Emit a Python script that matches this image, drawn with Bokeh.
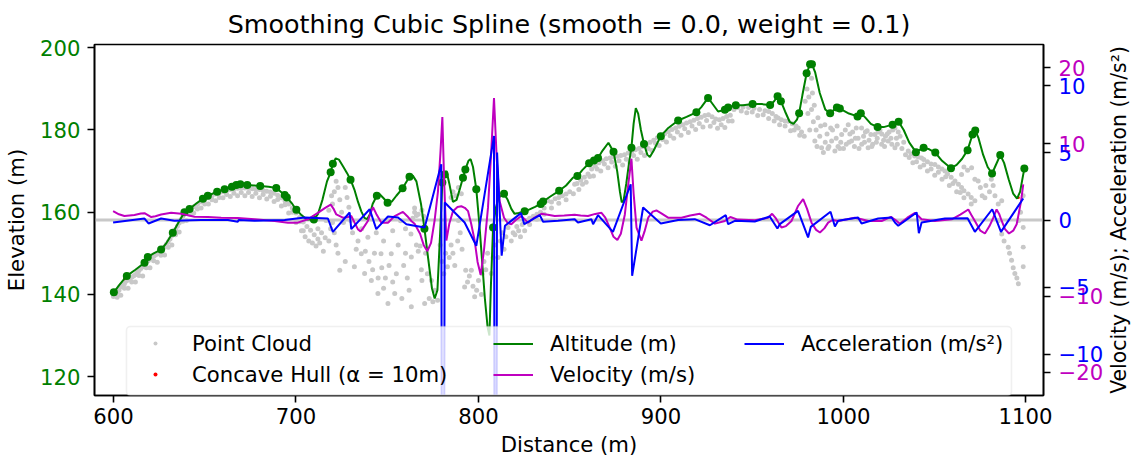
from bokeh.plotting import figure
from bokeh.layouts import row
from bokeh.core.properties import value
from bokeh.models import (Range1d, LinearAxis, FixedTicker, Legend, LegendItem,
                          Span, BoxAnnotation, CustomJSTickFormatter, AllLabels)
from bokeh.embed import file_html
from bokeh.resources import INLINE
import math

# ---------------- data ----------------
title_text = "Smoothing Cubic Spline (smooth = 0.0, weight = 0.1)"
right_label = "Velocity (m/s); Acceleration (m/s\u00b2)"
x_ticks = [600, 700, 800, 900, 1000, 1100]
elev_ticks = [120, 140, 160, 180, 200]
acc_ticks = [-10, -5, 0, 5, 10]
acc_tick_labels = ["\u221210", "\u22125", "0", "5", "10"]
vel_ticks = [-20, -10, 10, 20]
vel_tick_labels = ["\u221220", "\u221210", "10", "20"]

cloud_pts = [
    (600,139.5),(601,140),(602,140.5),(603,141),(604,141.8),(605,142.3),(606,142.6),(607,143.2),(608,143.5),
    (609,143.8),(610,144.2),(611,144.5),(612,144.8),(613,145.3),(614,145.8),(615,146.3),(616,146.7),(617,147.2),
    (618,147.8),(619,148.2),(620,148.6),(621,149),(622,149.3),(623,149.6),(624,149.9),(625,150.3),(626,150.6),
    (627,151.1),(628,151.6),(629,152.2),(630,152.8),(631,153.5),(632,154.3),(633,155),(634,155.8),(635,156.6),
    (636,157.4),(637,158.2),(638,159),(639,159.6),(640,160),(642,160.6),(644,161.3),(646,161.9),(648,162.5),
    (650,163),(652,163.5),(654,164),(656,164.4),(658,164.7),(660,165),(662,165.3),(664,165.5),(666,165.7),
    (668,165.8),(670,165.9),(672,165.9),(674,165.8),(676,165.7),(678,165.6),(680,165.5),(682,165.3),(684,165.1),
    (686,164.9),(688,164.6),(690,164.1),(692,163.5),(694,162.8),(696,162),(698,161),(700,159.8),(702,158.7),
    (704,157.6),(706,156.5),(708,155.6),(710,154.5),(712,153.5),
    (602,139.3),(606,141.5),(610,143),(614,144.6),(618,146.5),(622,148.2),(626,149.5),(630,151.5),(634,154.5),
    (638,157.8),(642,159.5),(646,160.8),(650,162),(654,163),(658,163.6),(662,164.3),(666,164.6),(670,164.8),
    (674,164.8),(678,164.6),(682,164.3),(686,163.9),(690,163.1),(694,161.8),(698,160),(702,157.7),
    (604,139.8),(608,141.5),(612,143),(616,144.5),(620,146.5),(624,147.8),(628,149.6),(632,152),(636,155.2),
    (640,158),(644,159.8),(648,161),(652,162),(656,162.8),(660,163.5),(664,163.8),(668,164),(672,164),
    (676,163.8),(680,163.5),(684,163.2),(688,162.6),(692,161.5),(696,159.8),(700,157.5),(704,155.5),
    (703,155.5),(705,154),(707,153),(709,152.5),(711,151.8),(713,152.5),(712,156),(714,155),(716,153.8),
    (718,153),(715,150.5),(719,156),(720,157.5),(721,155),(722,152),(723,150),(720,162),(721,165),(722,167.5),
    (723,166),(724,163),(725,160),(726,157.5),(724,145.9),(727,148),(728,163.6),(729,161.2),(730,158),(731,155),
    (732,146.7),(733,151),(734,153),(735.8,149.9),(737.6,145.1),(738,150.5),(739.4,153.9),(740,148),(741.3,143.4),
    (742,146),(743,150),(744.9,140.2),(745,144),(746.6,149.9),(747,146.5),(748,141.5),(749,144),(750.4,137.8),
    (750.4,158),(751,147),(752.2,149.9),(753,143),(754.1,140.2),(755,145),(756,152),(757.3,157.9),(758,139),
    (759,147),(760,150),(761,144),(762,141),(763.2,137),(763.2,149.1),(763,154.7),(764,158.5),(765,160),
    (766,159.2),(766,152),(767,150.5),(768,151.8),(768.7,146),(769,143.4),(770.5,137.8),(771,150),(772,145),
    (773,139),(774.2,143.4),(775,138.2),(776,141),(777.6,138.6),(716.5,158),(718,160.5),(719.5,164),(727,166),
    (765,161),(767,159.5),(769,160.5),(770,159),(736,156),(744,155),(748,153),(753,155.5),(760,156),
    (779,152),(780,148),(781,145),(782,150),(783,146.7),(784,149),(785,152),(786,150),(787,147),(788.6,153),
    (785,163.6),(786,165),(787.5,164),(789,166),(790.6,164.5),(789,158),(790,155),(791,151),(792.4,141.8),
    (793,145.9),(794,143),(795,144.5),(796.1,145.9),(797,142),(797.9,139.4),(799,141),(800,143.4),(801.6,140),
    (802,145),(803,148),(804,146),(805,150),(807,145.1),(808,149),(809,152),(810.7,149),(812,153),(813,155),
    (814,151),(815,154),(816.2,156.3),(818,153),(819,155),(820,154.5),(821,156.5),(822,155.5),(823,154),
    (824,157),(825.3,155.5),(826,158),(828,158.5),(830,159),(832,159.5),(834,160),(836,161),(838,162.8),
    (840,162.5),(842,163.3),(844,163.6),(846,164),(848,164.4),(850,165),(852.7,166.8),
    (828,157),(832,158.3),(836,159.5),(840,161),(844,162.2),(848,163),(852,164.5),
    (854,167),(856,167.8),(858,168.5),(860,169.3),(862,170.5),(864,171.2),(866,172),(868,172.5),(870,173),
    (872,173.2),(874,173.4),(876,173.6),(878,173.8),(880,174),(882,174.4),(884,174.8),(886,175.2),(888,175.5),
    (890,175.9),(892,176.5),(894,177),(896,177.5),(898,178.1),(900,178.6),(902,179.1),(904,179.6),(906,180.1),
    (908,180.5),(910,180.9),(912,181.3),(914,181.7),(916,182),(918,182.4),(920,182.8),(922,183.1),(924,183.5),
    (926,183.7),(928,183.2),(930,182.7),(932,182.5),(934,182.8),(936,183.3),(938,183.6),(940,185),
    (857,166.8),(861,168.7),(865,170.5),(869,171.7),(873,172.2),(877,172.5),(881,172.9),(885,173.8),(889,174.5),
    (893,175.5),(897,176.8),(901,177.7),(905,178.6),(909,179.5),(913,180.3),(917,181),(921,181.6),(925,182.3),
    (929,181.8),(933,181.3),(937,182.2),
    (855,165.5),(859,167.3),(863,168.8),(867,170),(871,170.8),(875,171.2),(879,171.5),(883,172.1),(887,172.9),
    (891,173.8),(895,175),(899,176.2),(903,177.1),(907,178),(911,178.7),(915,179.4),(919,180.1),(923,180.7),
    (927,180.9),(931,180.4),(935,180.6),(939,182.2),
    (942,185.5),(945,185.6),(948,185.5),(951,185.3),(954,185),(957,184.7),(959,184.5),(961,184),(963,183.3),
    (964.2,182.9),(966,182.5),(968,182.2),(969.7,182.1),(972,181.5),(974,181),(975.2,180.5),(977,179.5),
    (978.5,178.5),(944,184.6),(950,184.4),(956,183.7),(962,182.2),(968,181),(973,180),
    (947,184.2),(953,183.5),(959,182.8),(965,181.3),(971,179.8),(976,178.7),
    (979,187),(980,190),(981,188),(982.5,192.6),(983,189),(982.5,185),(983.5,182),(984.3,177.3),(985,180),
    (986,183),(987,178.5),(988,175.7),(989.8,181.3),(990,177),(991,179),(992,176),(993.5,177.3),(994,180),
    (995.3,174.9),(996,178),(997,176),(998,175.5),(999,178.9),(1000,175.5),(1001,180),(1002.6,181.3),(1003,177),
    (1004.4,177.3),(1005,179.5),(1006,176),(1007,180.5),(1008,178),(1009.9,180.5),(1010,176.5),(1011,178.5),
    (1012,179.5),(1013.5,175.7),(1014,177.5),(1015,178.9),(1016,176.5),(1017.2,178.9),(1018,177),(1019,179.5),
    (1020.9,176.5),(1021,179),(1022,177.5),(1023,178.5),(1024.5,177.3),(1025,179.5),(1026,178),(1027,180),
    (1028.2,180.5),(1028.2,175.7),(1029,178),
    (980.5,184),(981.5,180),(984,186),(985.5,176),(987.5,181),(989,174.5),(991.5,175.5),(993,180.5),(996.5,181),
    (998.5,177),(1001.5,176.5),(1003.5,179),(1006.5,178),(1008.5,175.5),(1011.5,177),(1013,179.8),(1015.5,176),
    (1018.5,178),(1020,180),(1022.5,176),(1024,179),(1026.5,176.5),(1029.5,176.5),(1030,179.5),
    (1031,178.5),(1033,177),(1035.5,174.9),(1037,174.2),(1039,173.7),(1041,173.4),(1042.8,173.2),(1044,172.8),
    (1046,172.3),(1048,171.7),(1050.1,171.6),(1052,171),(1054,170.5),(1055.6,170),(1057,169.3),(1059,168.5),
    (1061.1,167.6),(1063,166.8),(1064.7,166),(1066,165.2),(1068.3,164.4),(1070,163.6),(1072,162.8),(1064.7,169.2),
    (1066,171),(1068,170.2),(1070.2,170.8),(1072,168),(1073.8,167.6),(1075,166),(1076,164),(1077.5,163.5),
    (1078,166.5),(1080,165),(1081,168),(1082,166.5),(1083,164),(1084.8,162),(1086.7,162.8),(1084.8,157.9),
    (1086.7,154.7),(1088,153),(1090.3,151.5),(1091,150),(1092.1,148.3),(1093,146.5),(1093.9,145.1),(1095,144),
    (1095.8,142.6),(1098.5,156.3),(1098.5,151.5),(1098.5,146.7),(1098.5,164),(1097,160),(1096,158),
    (1036,173.3),(1040,172.3),(1044,171.5),(1048,170.5),(1052,169.7),(1056,168.6),(1060,167),(1064,164.8),
    (1032,175.5),(1034,174),(1038,172),(1042,171),(1046,170),(1050,169),(1054,168),(1058,166.5),(1062,165),
    (1066,163.5),(1070,162),
]
cloud_x = [p_[0] for p_ in cloud_pts]
cloud_y = [p_[1] for p_ in cloud_pts]

hull_x = [606.0, 700.2, 883.8, 1095.8]
hull_y = [143.8, 160.6, 175.7, 163.6]

alt_pts = [
    (600.2,140.5),(603,142.2),(607.3,144.5),(612,146.0),(617,147.7),(618.8,149.1),(622,150.0),(626.1,150.9),
    (629,152.5),(632.5,155.0),(636,157.8),(638.9,160.0),(641.7,160.8),(645,162.0),(649,163.3),(651.7,164.0),
    (656.8,165.0),(660.9,165.6),(664.9,166.2),(667.3,166.6),(669.5,166.8),(673.3,166.6),(677,166.5),(680.4,166.4),
    (685,166.2),(689.2,165.9),(693.8,164.2),(695,163.6),(698,162.0),(700.2,160.6),(703,159.3),(706,158.2),
    (709.8,158.2),(712,159.5),(714.5,163.0),(717,167.5),(719,169.7),(720.2,171.8),(721.8,173.1),(723.5,172.8),
    (726,171.0),(728,169.5),(729.9,167.9),(732,165.5),(734,162.5),(735.8,160.2),(737.5,158.6),(739,158.3),
    (740.5,159.5),(742,162.0),(744.3,164.0),(746,164.3),(748,163.4),(750.2,162.3),(752.5,162.6),(755,164.0),
    (758.4,165.8),(762.2,168.6),(764,168.9),(766,167.5),(768.5,162.0),(770.4,156.0),(772.5,148.5),(774.5,141.5),
    (776,139.0),(777.5,141.0),(779,155.0),(780.2,167.2),(781.5,169.2),(782.5,170.0),(784,167.0),(786,162.5),
    (788,163.0),(790,166.0),(791.5,168.4),(792.8,170.4),(794.5,172.5),(795.7,172.9),(797,171.0),(798.8,165.6),
    (800.5,157.0),(802,148.0),(803.5,139.0),(805,132.0),(806,130.0),(806.8,142.0),(808,156.3),(809.5,161.0),
    (811,163.5),(814,164.5),(816,163.0),(818,160.8),(819.8,159.6),(822,159.8),(825.3,160.2),(828,160.7),
    (831,161.3),(834.1,162.0),(835.4,162.6),(840,164.0),(844.2,165.2),(848,166.5),(851.8,168.4),(854.2,168.8),
    (857,170.3),(860.6,171.9),(863.3,172.6),(865.5,173.2),(868,175.0),(871.2,176.9),(874,174.7),(876,170.0),
    (877.5,165.0),(878.5,162.4),(879.5,162.8),(881,167.0),(882.5,172.0),(883.8,175.7),(885,181.5),(886.2,185.3),
    (887.5,184.0),(889,180.0),(890.7,176.6),(892.5,174.0),(893.9,173.4),(896,175.0),(899.9,178.5),(904,180.5),
    (909.4,182.3),(914,183.2),(919.4,184.3),(922,185.5),(925.8,187.8),(928,186.5),(931.3,184.5),(935,184.9),
    (936.8,185.5),(941,186.0),(945,186.0),(950.2,186.3),(955,186.3),(959.8,186.1),(962,187.0),(963.9,188.2),
    (965.7,187.0),(968,184.5),(970.5,182.0),(972.6,181.5),(974.5,182.5),(975.7,184.1),(977.5,188.5),(979.8,193.8),
    (981.7,196.0),(982.7,196.0),(984.5,194.0),(987,189.0),(990,185.0),(992.7,184.1),(996.4,185.5),(998,185.2),
    (1003,184.0),(1007.7,183.3),(1009.5,184.1),(1012,183.0),(1015,181.5),(1018.7,180.7),(1022,180.7),(1026.9,181.3),
    (1030.2,182.0),(1033,180.0),(1036,177.0),(1039.7,174.6),(1043.9,175.7),(1047,175.3),(1050.3,174.5),(1054,172.5),
    (1058.9,170.7),(1062,171.5),(1065,173.0),(1068,175.1),(1070.7,178.9),(1072.2,179.9),(1074,178.0),(1076.5,174.0),
    (1079,171.0),(1081.4,169.4),(1083,171.0),(1085.9,173.9),(1088,172.0),(1090.5,168.0),(1093,164.5),(1095.1,163.3),
    (1096.8,165.0),(1098,168.0),(1099.1,170.6),
]
alt_x = [p_[0] for p_ in alt_pts]
alt_y = [p_[1] for p_ in alt_pts]

knot_pts = [
    (600.2,140.5),(607.3,144.5),(617,147.7),(618.8,149.1),(626.1,150.9),(632.5,155.0),(638.9,160.0),(641.7,160.8),
    (649,163.3),(651.7,164.0),(656.8,165.0),(660.9,165.6),(664.9,166.2),(667.3,166.6),(669.5,166.8),(673.3,166.6),
    (680.4,166.4),(689.2,165.9),(693.8,164.2),(695,163.6),(700.2,160.6),(709.8,158.2),(719,169.7),(720.2,171.8),
    (729.9,167.9),(744.3,164.0),(750.2,162.3),(758.4,165.8),(762.2,168.6),(770.4,156.0),(780.2,167.2),(781.5,169.2),
    (791.5,168.4),(792.8,170.4),(798.8,165.6),(808,156.3),(814,164.5),(825.3,160.2),(834.1,162.0),(835.4,162.6),
    (844.2,165.2),(854.2,168.8),(860.6,171.9),(863.3,172.6),(865.5,173.2),(874,174.7),(883.8,175.7),(890.7,176.6),
    (899.9,178.5),(909.4,182.3),(919.4,184.3),(925.8,187.8),(935,184.9),(936.8,185.5),(941,186.0),(950.2,186.3),
    (959.8,186.1),(963.9,188.2),(965.7,187.0),(975.7,184.1),(979.8,193.8),(981.7,196.0),(982.7,196.0),(992.7,184.1),
    (996.4,185.5),(998,185.2),(1007.7,183.3),(1009.5,184.1),(1018.7,180.7),(1026.9,181.3),(1030.2,182.0),
    (1039.7,174.6),(1043.9,175.7),(1050.3,174.5),(1058.9,170.7),(1068,175.1),(1070.7,178.9),(1072.2,179.9),
    (1081.4,169.4),(1085.9,173.9),(1099.1,170.6),
]
knot_x = [p_[0] for p_ in knot_pts]
knot_y = [p_[1] for p_ in knot_pts]

vel_pts = [
    (599.8,1.16),(603,0.75),(606,0.52),(611.5,0.65),(615,0.85),(617,0.9),(620.7,0.39),(623,0.5),(626.1,0.73),
    (631.6,0.94),(637.1,0.81),(644.4,0.43),(651.7,0.39),(659,0.3),(668.1,0.26),(677.3,0.09),(688.3,-0.13),
    (695.6,-0.35),(701,-0.35),(706.5,0.09),(712,0.94),(716,1.6),(719,2.02),(720.5,1.5),(722.1,0.73),(725.7,0.3),
    (728,0.35),(730.3,0.52),(732,-0.3),(733.9,-1.2),(735.4,-1.51),(737,-1.0),(739.4,-0.13),(741,1.0),(742.2,1.68),
    (744,0.8),(746.8,-0.35),(750.4,-0.35),(754.1,0.52),(758.6,1.07),(761,0.5),(763.2,-0.13),(765,-0.48),(768,-1.8),
    (770,-3.3),(772,-4.09),(774,-3.0),(776,0.0),(777.8,3.74),(779.2,9.0),(780.2,13.5),(781.2,5.0),(782.4,-2.7),
    (784,-0.5),(786,1.16),(788.5,1.7),(790.6,1.8),(792.5,1.6),(794.3,1.16),(796,-0.5),(797.9,-2.7),(799.5,-5.5),
    (801.2,-7.2),(803,-4.0),(805.2,1.59),(807,9.0),(808.5,16.0),(810,8.0),(811.6,2.45),(814,0.3),(816,-0.4),
    (818,-0.55),(820.5,0.0),(823.5,0.52),(827.1,-0.35),(830,0.2),(834.5,0.81),(838,0.7),(841.8,0.52),(847,0.6),
    (852.7,0.7),(856,0.6),(860,0.52),(864,0.8),(867.4,0.94),(869.5,0.3),(871.9,-0.99),(874,-2.2),(876.1,-2.62),
    (878,-1.8),(880.2,0.73),(882,4.5),(883.8,8.04),(885,3.5),(886.6,-0.99),(889.3,-2.7),(891,-1.5),(893,0.3),
    (895.5,1.1),(897.5,1.25),(900,0.9),(903.9,0.3),(911.2,0.3),(916,0.6),(921.3,0.81),(925,0.3),(929.5,-0.48),
    (935,-0.13),(938,0.4),(942,0.05),(951.4,-0.04),(958.7,0.3),(960.9,0.81),(963,0.2),(966,-0.99),(968.5,-0.8),
    (971.5,-0.13),(975,1.8),(977.9,2.75),(980,1.5),(982.5,-0.35),(985,-1.3),(987.1,-1.64),(989.5,-1.1),(991.6,-0.35),
    (994,0.0),(997.1,-0.13),(1002,0.1),(1006.2,0.3),(1009.9,0.09),(1013.5,-0.13),(1020.9,-0.13),(1026,0.4),
    (1028.5,0.0),(1030.9,-0.48),(1035,0.3),(1039.2,0.94),(1042.8,0.09),(1050.1,-0.13),(1059.3,0.09),(1064,0.7),
    (1068.4,1.38),(1070,0.7),(1072,-0.13),(1075,-1.4),(1077.5,-1.77),(1080,-0.8),(1082.1,0.3),(1083.9,1.38),
    (1085.3,0.8),(1086.7,-0.13),(1088.5,-1.2),(1090.7,-1.77),(1093,-1.4),(1094.9,-0.55),(1097.3,2.45),(1098.5,4.68),
]
vel_x = [p_[0] for p_ in vel_pts]
vel_y = [p_[1] for p_ in vel_pts]

acc_pts = [
    (599.8,-0.19),(617,0.11),(619.2,-0.26),(626.1,0.11),(633.4,-0.06),(648.1,0.0),(662.7,0.0),(668.1,-0.13),
    (668.6,0.0),(677.3,-0.06),(693.8,0.0),(704.7,0.19),(717.5,0.11),(720.2,-0.88),(729.4,0.56),(730.3,-0.68),
    (740.4,0.8),(744,-0.68),(750.4,0.26),(755.9,0.19),(760.5,-0.31),(765,-0.43),(770.5,-0.56),(779.6,4.15),
    (780.5,-60.0),(781.5,1.3),(792.4,-0.19),(798.8,-1.92),(808.5,6.26),(809.3,-60.0),(810.2,5.02),(812.7,-2.66),
    (814.5,-0.43),(823.3,0.51),(825.1,-0.31),(833.6,0.36),(835.4,-0.13),(843.6,-0.06),(852.7,0.06),(854.5,-0.19),
    (861.9,0.06),(862.8,-0.31),(865.5,0.36),(873.7,-0.88),(883.4,2.66),(884.2,-4.15),(890.2,0.93),(899.9,-0.26),
    (909.4,0.0),(918.5,0.06),(926.8,-0.39),(935.5,0.36),(936.8,-0.31),(940.5,-0.06),(951.4,-0.11),(959.6,0.26),
    (963.8,-0.63),(965.1,-0.31),(975.1,0.68),(980.6,-1.3),(982.1,-0.51),(992.9,0.61),(995.3,-0.48),(997.1,-0.06),
    (1008,0.19),(1009.9,-0.26),(1019,0.11),(1026.4,0.19),(1028.2,-0.19),(1030,-0.43),(1040.1,0.56),(1041.3,-0.98),
    (1042.8,-0.19),(1055.6,0.11),(1068,0.13),(1072,-0.88),(1081.5,0.8),(1086.3,-0.88),(1098.5,1.6),
]
acc_x = [p_[0] for p_ in acc_pts]
acc_y = [p_[1] for p_ in acc_pts]

# ---------------- styling ----------------
FONT = "DejaVu Sans"
FS = "21.2px"
GREEN = "#008000"
MAGENTA = "#bf00bf"
BLUE = "#0000ff"
GRAY = "#c8c8c8"

x_lo, x_hi = 589.6, 1109.6
e_lo, e_hi = 115.4, 200.8
v_lim = 23.03
a_lim = 13.06

H = 464
B_TOP, B_BOT = 41, 69
FRAME_R = 1043
MAIN_W = 1052
p = figure(width=MAIN_W, height=H, output_backend="svg", toolbar_location=None,
           x_range=Range1d(x_lo, x_hi), y_range=Range1d(e_lo, e_hi),
           min_border_left=94, min_border_right=MAIN_W - FRAME_R, min_border_top=B_TOP, min_border_bottom=B_BOT,
           title=title_text)
p.extra_y_ranges = {"vel": Range1d(-v_lim, v_lim), "acc": Range1d(-a_lim, a_lim)}
p.grid.visible = False
p.outline_line_color = "black"
p.outline_line_width = 1.6
p.outline_line_alpha = 1.0

p.title.text_font = FONT
p.title.text_font_size = "25.4px"
p.title.text_font_style = "normal"
p.title.align = "center"
p.title.text_color = "black"
p.title.standoff = 12

def style_axis(ax):
    ax.major_label_text_font = FONT
    ax.major_label_text_font_size = FS
    ax.major_label_text_color = "black"
    ax.axis_label_text_font = FONT
    ax.axis_label_text_font_size = FS
    ax.axis_label_text_font_style = "normal"
    ax.axis_label_text_color = "black"
    ax.major_tick_out = 7
    ax.major_tick_in = 0
    ax.minor_tick_line_color = None
    ax.axis_line_width = 1.6
    ax.major_tick_line_width = 1.6
    ax.major_label_policy = AllLabels()

xa = p.xaxis[0]
style_axis(xa)
xa.ticker = FixedTicker(ticks=x_ticks)
xa.axis_label = "Distance (m)"
xa.major_label_standoff = 5
xa.axis_label_standoff = 5

ya = p.yaxis[0]
style_axis(ya)
ya.ticker = FixedTicker(ticks=elev_ticks)
ya.axis_label = "Elevation (m)"
ya.major_label_text_color = GREEN
ya.major_label_standoff = 7
ya.axis_label_standoff = 8

# right axis: tick marks for both velocity and acceleration (labels drawn in side figure)
acc_in_vel = [a * v_lim / a_lim for a in acc_ticks]
blank_fmt = CustomJSTickFormatter(code="return '';")
va = LinearAxis(y_range_name="vel", ticker=FixedTicker(ticks=vel_ticks + acc_in_vel), formatter=blank_fmt)
style_axis(va)
va.major_label_standoff = 0
p.add_layout(va, "right")

# zero reference line
p.add_layout(Span(location=0, dimension="width", y_range_name="vel", line_color=GRAY,
                  line_width=3, level="underlay"))

cloud_r = p.scatter(cloud_x, cloud_y, size=5, color=GRAY, line_color=None)
hull_r = p.scatter(hull_x, hull_y, size=3, color="red", line_color=None)
alt_r = p.line(alt_x, alt_y, line_color=GREEN, line_width=2)
p.scatter(knot_x, knot_y, size=8, color=GREEN, line_color=None)
vel_r = p.line(vel_x, vel_y, line_color=MAGENTA, line_width=2, y_range_name="vel")
acc_r = p.line(acc_x, acc_y, line_color=BLUE, line_width=2, y_range_name="acc")

# legend frame
box = BoxAnnotation(left=32, right=917, bottom=0, top=69, left_units="screen", right_units="screen",
                    top_units="screen", bottom_units="screen", fill_color="white", fill_alpha=0.8,
                    line_color="#cccccc", line_width=1.6)
if "border_radius" in box.properties():
    box.border_radius = 4
p.add_layout(box)

def make_legend(items, loc, gh):
    lg = Legend(items=items, location=loc, orientation="vertical")
    lg.label_text_font = FONT
    lg.label_text_font_size = FS
    lg.label_text_color = "black"
    lg.glyph_width = 40
    lg.glyph_height = gh
    lg.label_height = 25
    lg.label_standoff = 17
    lg.padding = 0
    lg.spacing = 6
    lg.margin = 0
    lg.background_fill_color = None
    lg.border_line_color = None
    p.add_layout(lg)

make_legend([LegendItem(label="Point Cloud", renderers=[cloud_r]),
             LegendItem(label="Concave Hull (\u03b1 = 10m)", renderers=[hull_r])], (41, 8.5), 10)
make_legend([LegendItem(label="Altitude (m)", renderers=[alt_r]),
             LegendItem(label="Velocity (m/s)", renderers=[vel_r])], (399, 8.5), 25)
make_legend([LegendItem(label="Acceleration (m/s\u00b2)", renderers=[acc_r])], (650, 39.5), 25)

# right-hand tick labels and axis title in a companion figure sharing the same vertical frame
SIDE_W = 1140 - MAIN_W
LABEL_X = 1058 - MAIN_W
TITLE_X = 1118 - MAIN_W
q = figure(width=SIDE_W, height=H, output_backend="svg", toolbar_location=None,
           x_range=Range1d(0, SIDE_W), y_range=Range1d(-v_lim, v_lim),
           x_axis_location=None, y_axis_location=None,
           min_border_left=0, min_border_right=0, min_border_top=B_TOP, min_border_bottom=B_BOT)
q.extra_y_ranges = {"acc": Range1d(-a_lim, a_lim)}
q.grid.visible = False
q.outline_line_color = None
txt_kw = dict(text_font=value(FONT), text_baseline="middle")
q.text(x=[LABEL_X] * len(vel_ticks), y=vel_ticks, text=vel_tick_labels, text_color=MAGENTA,
       text_align="left", text_font_size=value(FS), **txt_kw)
q.text(x=[LABEL_X] * len(acc_ticks), y=acc_ticks, text=acc_tick_labels, text_color=BLUE,
       text_align="left", y_range_name="acc", text_font_size=value(FS), **txt_kw)
q.text(x=[TITLE_X], y=[0], text=[right_label], angle=math.pi / 2, text_color="black",
       text_align="center", text_font_size=value("20.4px"), **txt_kw)

open("out.html", "w").write(file_html(row(p, q), INLINE))
